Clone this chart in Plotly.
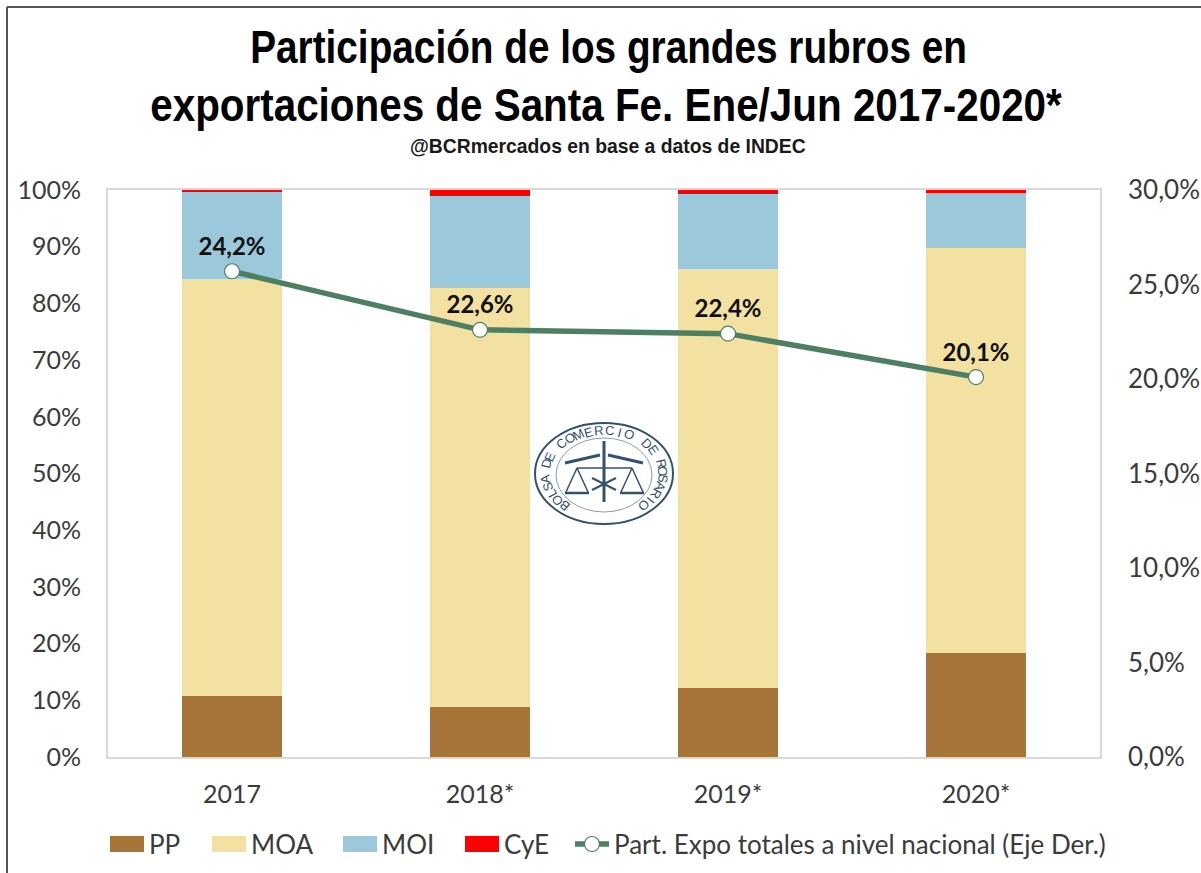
import math
import plotly.graph_objects as go

years = ["2017", "2018*", "2019*", "2020*"]
pp = [10.8, 8.9, 12.2, 18.4]
moa = [73.5, 73.8, 73.9, 71.3]
moi = [15.3, 16.3, 13.2, 9.7]
cye = [0.4, 1.0, 0.7, 0.6]
# the first point is drawn higher in the reference than its printed label says
part = [25.7, 22.6, 22.4, 20.1]
part_labels = ["24,2%", "22,6%", "22,4%", "20,1%"]
left_ticks = [0, 10, 20, 30, 40, 50, 60, 70, 80, 90, 100]
right_ticks = [0, 5, 10, 15, 20, 25, 30]
right_labels = ["0,0%", "5,0%", "10,0%", "15,0%", "20,0%", "25,0%", "30,0%"]
logo_text = "BOLSA DE COMERCIO DE ROSARIO"
title_lines = ["Participación de los grandes rubros en",
               "exportaciones de Santa Fe. Ene/Jun 2017-2020*",
               "@BCRmercados en base a datos de INDEC"]

W, H = 1201, 873
L, R, T, B = 108, 1100, 190, 757
TXT = "#3b3b3b"
FONT = "Lato"
TITLE_FONT = "Liberation Sans"
LOGO = "#34506F"

fig = go.Figure()
for name, vals, col in [("PP", pp, "#A67537"), ("MOA", moa, "#F3E1A1"),
                        ("MOI", moi, "#9BC8DB"), ("CyE", cye, "#FF0000")]:
    fig.add_bar(x=years, y=vals, name=name, marker=dict(color=col, line_width=0), yaxis="y")

fig.add_scatter(
    x=years, y=part, name="Part. Expo totales a nivel nacional (Eje Der.)", yaxis="y2",
    mode="lines+markers+text", text=part_labels, textposition="top center",
    textfont=dict(family=FONT, size=24, color="#111111", weight="bold"),
    line=dict(color="#4F7F63", width=5.5),
    marker=dict(size=15, color="white", line=dict(color="#4F7F63", width=1.2)),
)

def px(x): return (x - L) / (R - L)
def py(y): return (B - y) / (B - T)
def line(x0, y0, x1, y1, col=LOGO, w=2):
    return dict(type="line", xref="paper", yref="paper", x0=px(x0), x1=px(x1), y0=py(y0), y1=py(y1),
                line=dict(color=col, width=w), layer="above")
def ell(x0, y0, x1, y1, col=LOGO, w=2):
    return dict(type="circle", xref="paper", yref="paper", x0=px(x0), x1=px(x1), y0=py(y1), y1=py(y0),
                line=dict(color=col, width=w), layer="above")

shapes = [
    line(7, 7, W, 7, "#555555", 2), line(7, 7, 7, H, "#555555", 2),
    ell(535, 423, 673, 524, LOGO, 2),
    ell(556, 438, 652, 512, "#8A9CB0", 1),
    line(604, 441, 604, 502, LOGO, 3),
    line(565, 463, 600, 455, LOGO, 3), line(608, 455, 643, 463, LOGO, 3),
    line(577, 468, 632, 468, LOGO, 1.5),
    line(577, 468, 566, 492, LOGO, 1.5), line(577, 468, 588, 492, LOGO, 1.5),
    line(632, 468, 621, 492, LOGO, 1.5), line(632, 468, 643, 492, LOGO, 1.5),
    line(565, 493, 589, 493, LOGO, 2.5), line(620, 493, 644, 493, LOGO, 2.5),
    line(592, 478, 616, 490, LOGO, 2), line(616, 478, 592, 490, LOGO, 2),
]

annotations = [dict(text=f"<b>{t}</b>", x=px(x), y=py(y), xref="paper", yref="paper",
                    xanchor="center", yanchor="middle", showarrow=False,
                    font=dict(family=TITLE_FONT, size=s, color=c))
               for t, x, y, s, c in [(title_lines[0], 608, 47, 46, "#000000"),
                                     (title_lines[1], 606, 105, 46, "#000000"),
                                     (title_lines[2], 608, 146, 20, "#1a1a1a")]]

n = len(logo_text)
start, stop = 132.0, 408.0
for i, ch in enumerate(logo_text):
    deg = start + (stop - start) * i / (n - 1)
    a = math.radians(deg)
    annotations.append(dict(text=ch, x=px(604 + 59 * math.cos(a)), y=py(473.5 + 43 * math.sin(a)),
                            xref="paper", yref="paper", showarrow=False, textangle=deg + 90,
                            font=dict(family="Liberation Sans", size=13, color=LOGO)))

fig.update_layout(
    width=W, height=H, autosize=False, barmode="stack", bargap=0.6,
    paper_bgcolor="white", plot_bgcolor="white",
    margin=dict(l=L, r=W - R, t=T, b=H - B, pad=0),
    font=dict(family=FONT, size=25, color=TXT),
    showlegend=True,
    legend=dict(orientation="h", x=0.02, y=0.5, xanchor="left", yanchor="top",
                font=dict(family=FONT, size=26, color=TXT), itemwidth=34, traceorder="normal",
                bgcolor="rgba(0,0,0,0)"),
    xaxis=dict(type="category", showgrid=False, ticks="", showline=True, linecolor="#D9D9D9", linewidth=2,
               mirror=True, tickfont=dict(size=25), ticklabelstandoff=14, automargin=False),
    yaxis=dict(range=[0, 100], tickvals=left_ticks, ticktext=[f"{v}%" for v in left_ticks],
               showgrid=False, ticks="", showline=True, linecolor="#D9D9D9", linewidth=2, mirror=True,
               zeroline=False, ticklabelstandoff=20, automargin=False),
    yaxis2=dict(range=[0, 30], overlaying="y", side="right", tickvals=right_ticks, ticktext=right_labels,
                showgrid=False, ticks="", showline=False, zeroline=False, ticklabelstandoff=27,
                tickfont=dict(size=26), automargin=False),
    shapes=shapes, annotations=annotations,
)

# page margin off; narrow the title lines, widen the legend keys and place the legend below the axis
post = """
document.body.style.margin = '0';
var targets = {'Participación': 717, 'exportaciones': 912, '@BCRmercados': 396};
document.querySelectorAll('.annotation-text').forEach(function (t) {
  var key = t.textContent.split(' ')[0];
  if (targets[key]) {
    var b = t.getBBox(), c = b.x + b.width / 2, s = targets[key] / b.width;
    t.setAttribute('transform', 'translate(' + c + ',0) scale(' + s + ',1) translate(' + (-c) + ',0)');
  }
});
document.querySelectorAll('.legend .legendbar path, .legend .legendpoints path').forEach(function (p) {
  var d = p.getAttribute('d') || '';
  if (d.indexOf('H-6') >= 0) { p.setAttribute('d', 'M17,8H-17V-8H17Z'); }
});
var lg = document.querySelector('.legend');
lg.setAttribute('transform', 'translate(105,826)');
var xs = [0, 102, 233, 355, 465];
var clip = lg.querySelector('.scrollbox');
if (clip) { clip.removeAttribute('clip-path'); }
lg.querySelectorAll('.traces').forEach(function (t, i) {
  t.setAttribute('transform', 'translate(' + xs[i] + ',18)');
});
"""
fig.write_html("out.html", post_script=post, config={"displayModeBar": False})
